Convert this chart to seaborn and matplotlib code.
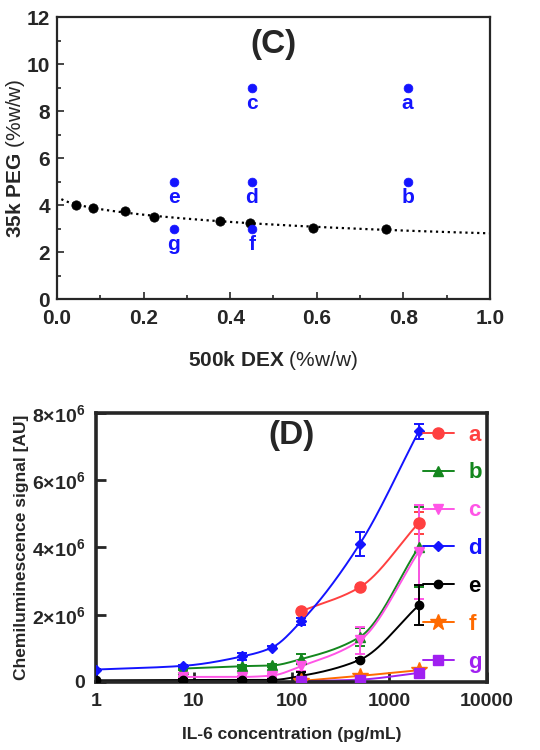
import numpy as np
import pandas as pd
import matplotlib
matplotlib.use("Agg")
import matplotlib.pyplot as plt
import seaborn as sns
from matplotlib.lines import Line2D
from matplotlib.ticker import MultipleLocator, FixedLocator, FixedFormatter, NullLocator

sns.set_theme(style="ticks")
plt.rcParams['font.family'] = ['Liberation Sans', 'DejaVu Sans']
plt.rcParams['mathtext.fontset'] = 'custom'
plt.rcParams['mathtext.rm'] = 'Liberation Sans'
plt.rcParams['mathtext.bf'] = 'Liberation Sans:bold'

# ---------------- Panel C data ----------------
dex_binodal = [0.043, 0.083, 0.156, 0.224, 0.376, 0.445, 0.592, 0.760]
peg_binodal = [4.01, 3.89, 3.75, 3.52, 3.35, 3.24, 3.04, 2.97]
sys_labels = ['a', 'b', 'c', 'd', 'e', 'f', 'g']
sys_dex = [0.81, 0.81, 0.45, 0.45, 0.27, 0.45, 0.27]
sys_peg = [9, 5, 9, 5, 5, 3, 3]

# ---------------- Panel D data (signal in units of 1e6) ----------------
a_x = [125, 500, 2000]
a_y = [2.10, 2.82, 4.73]
a_err = [0.04, 0.05, 0.32]
b_x = [7.8, 31.25, 62.5, 125, 500, 2000]
b_y = [0.40, 0.47, 0.49, 0.68, 1.34, 4.01]
b_err = [0.03, 0.04, 0.04, 0.15, 0.27, 1.20]
c_x = [7.8, 31.25, 62.5, 125, 500, 2000]
c_y = [0.15, 0.15, 0.19, 0.47, 1.24, 3.87]
c_err = [0.03, 0.04, 0.05, 0.15, 0.40, 1.40]
d_x = [1, 7.8, 31.25, 62.5, 125, 500, 2000]
d_y = [0.37, 0.48, 0.76, 1.02, 1.80, 4.11, 7.45]
d_err = [0.02, 0.03, 0.10, 0.05, 0.10, 0.35, 0.22]
e_x = [1, 7.8, 31.25, 62.5, 125, 500, 2000]
e_y = [0.05, 0.06, 0.06, 0.06, 0.18, 0.66, 2.28]
e_err = [0.02, 0.02, 0.02, 0.02, 0.12, 0.05, 0.60]
f_x = [125, 500, 2000]
f_y = [0.03, 0.18, 0.35]
f_err = [0.02, 0.03, 0.03]
g_x = [125, 500, 2000]
g_y = [0.02, 0.07, 0.27]
g_err = [0.01, 0.02, 0.03]

series_names = ['a', 'b', 'c', 'd', 'e', 'f', 'g']
series_colors = ['#ff4040', '#14871e', '#ff55e6', '#1414ff', '#000000', '#ff6a00', '#a020f0']
series_markers = ['o', '^', 'v', 'D', 'o', '*', 's']
series_msize = [8, 7, 7, 5, 6, 12, 7]
series_data = [(a_x, a_y, a_err), (b_x, b_y, b_err), (c_x, c_y, c_err), (d_x, d_y, d_err),
               (e_x, e_y, e_err), (f_x, f_y, f_err), (g_x, g_y, g_err)]


def pchip(x, y, xn):
    x = np.asarray(x, float); y = np.asarray(y, float)
    h = np.diff(x); d = np.diff(y) / h
    n = len(x); m = np.zeros(n)
    if n == 2:
        m[:] = d[0]
    else:
        for k in range(1, n - 1):
            if d[k - 1] * d[k] > 0:
                w1 = 2 * h[k] + h[k - 1]; w2 = h[k] + 2 * h[k - 1]
                m[k] = (w1 + w2) / (w1 / d[k - 1] + w2 / d[k])
        m[0] = d[0]; m[-1] = d[-1]
    idx = np.clip(np.searchsorted(x, xn) - 1, 0, n - 2)
    t = (xn - x[idx]) / h[idx]
    h00 = 2 * t**3 - 3 * t**2 + 1; h10 = t**3 - 2 * t**2 + t
    h01 = -2 * t**3 + 3 * t**2; h11 = t**3 - t**2
    return h00 * y[idx] + h10 * h[idx] * m[idx] + h01 * y[idx + 1] + h11 * h[idx] * m[idx + 1]


fig = plt.figure(figsize=(5.4, 7.5), dpi=100)

# ================= Panel C =================
axc = fig.add_axes([0.1056, 0.601, 0.8015, 0.376])
dfb = pd.DataFrame({'dex': dex_binodal, 'peg': peg_binodal})
# binodal fit: ln y = A + B*sqrt(x) + C*x^3
X = np.column_stack([np.ones(len(dex_binodal)), np.sqrt(dex_binodal), np.asarray(dex_binodal)**3])
coef, *_ = np.linalg.lstsq(X, np.log(peg_binodal), rcond=None)
xf = np.linspace(0.01, 1.0, 200)
yf = np.exp(coef[0] + coef[1] * np.sqrt(xf) + coef[2] * xf**3)
sns.lineplot(x=xf, y=yf, ax=axc, color='black', linestyle=':', linewidth=1.6)
sns.scatterplot(data=dfb, x='dex', y='peg', ax=axc, color='black', s=45, edgecolor='black', linewidth=0.5, zorder=3)
dfs = pd.DataFrame({'dex': sys_dex, 'peg': sys_peg, 'lab': sys_labels})
sns.scatterplot(data=dfs, x='dex', y='peg', ax=axc, color='#1414ff', s=40, edgecolor='#1414ff', linewidth=0.5, zorder=3)
for xx, yy, lab in zip(sys_dex, sys_peg, sys_labels):
    axc.text(xx, yy - 0.68, lab, color='#1414ff', fontsize=15, fontweight='bold', ha='center', va='center')
axc.set_xlim(0, 1.0)
axc.set_ylim(0, 12)
axc.xaxis.set_major_locator(MultipleLocator(0.2))
axc.xaxis.set_minor_locator(MultipleLocator(0.1))
axc.yaxis.set_major_locator(MultipleLocator(2))
axc.yaxis.set_minor_locator(MultipleLocator(1))
axc.set_xticks(np.arange(0, 1.01, 0.2))
axc.set_xticklabels(['0.0', '0.2', '0.4', '0.6', '0.8', '1.0'])
axc.tick_params(which='both', direction='in', width=1.2)
axc.tick_params(which='major', length=5, labelsize=15)
axc.tick_params(axis='x', which='major', pad=7)
axc.tick_params(axis='y', which='major', pad=5)
axc.tick_params(which='minor', length=3)
for lbl in axc.get_xticklabels() + axc.get_yticklabels():
    lbl.set_fontweight('bold')
for sp in axc.spines.values():
    sp.set_linewidth(1.6)
axc.set_xlabel(r'500k DEX $\mathrm{(\%w/w)}$', fontsize=15, fontweight='bold')
axc.xaxis.set_label_coords(0.5, -0.175)
axc.set_ylabel(r'35k PEG $\mathrm{(\%w/w)}$', fontsize=15, fontweight='bold')
axc.yaxis.set_label_coords(-0.07, 0.5)
axc.text(0.5, 0.905, '(C)', transform=axc.transAxes, fontsize=24, fontweight='bold', ha='center', va='center')

# ================= Panel D =================
axd = fig.add_axes([0.178, 0.0907, 0.724, 0.3587])
handles = []
for name, col, mk, ms, (xs, ys, es) in zip(series_names, series_colors, series_markers, series_msize, series_data):
    xs = np.asarray(xs, float); ys = np.asarray(ys, float) * 1e6; es = np.asarray(es, float) * 1e6
    lx = np.log10(xs)
    xn = np.linspace(lx[0], lx[-1], 200)
    yn = pchip(lx, ys, xn)
    sns.lineplot(x=10**xn, y=yn, ax=axd, color=col, linewidth=1.4, zorder=2)
    axd.errorbar(xs, ys, yerr=es, fmt=mk, color=col, markersize=ms, capsize=3.5, elinewidth=1.4,
                 capthick=1.4, markeredgecolor=col, zorder=3)
    handles.append(Line2D([0], [0], color=col, marker=mk, markersize=ms, linewidth=1.4))
axd.set_xscale('log')
axd.set_xlim(1, 10000)
axd.set_ylim(0, 8e6)
axd.xaxis.set_major_locator(FixedLocator([1, 10, 100, 1000, 10000]))
axd.xaxis.set_major_formatter(FixedFormatter(['1', '10', '100', '1000', '10000']))
axd.xaxis.set_minor_locator(NullLocator())
axd.yaxis.set_major_locator(FixedLocator([0, 2e6, 4e6, 6e6, 8e6]))
axd.yaxis.set_major_formatter(FixedFormatter(['0', r'$\mathbf{2{\times}10^{6}}$', r'$\mathbf{4{\times}10^{6}}$',
                                              r'$\mathbf{6{\times}10^{6}}$', r'$\mathbf{8{\times}10^{6}}$']))
axd.tick_params(which='major', direction='in', length=7, width=2, labelsize=14, pad=8)
for lbl in axd.get_xticklabels() + axd.get_yticklabels():
    lbl.set_fontweight('bold')
for sp in axd.spines.values():
    sp.set_linewidth(2.6)
axd.set_xlabel('IL-6 concentration (pg/mL)', fontsize=12.5, fontweight='bold', labelpad=12)
axd.set_ylabel('Chemiluminescence signal [AU]', fontsize=12.5, fontweight='bold', labelpad=2)
axd.text(0.5, 0.915, '(D)', transform=axd.transAxes, fontsize=24, fontweight='bold', ha='center', va='center')
leg = axd.legend(handles, series_names, loc='upper right', bbox_to_anchor=(1.01, 0.99), frameon=False,
                 fontsize=16, handlelength=1.4, handletextpad=0.65, labelspacing=0.76, borderaxespad=0)
for t, col in zip(leg.get_texts(), series_colors):
    t.set_color(col)
    t.set_fontweight('bold')

fig.savefig('out.png', dpi=100)
